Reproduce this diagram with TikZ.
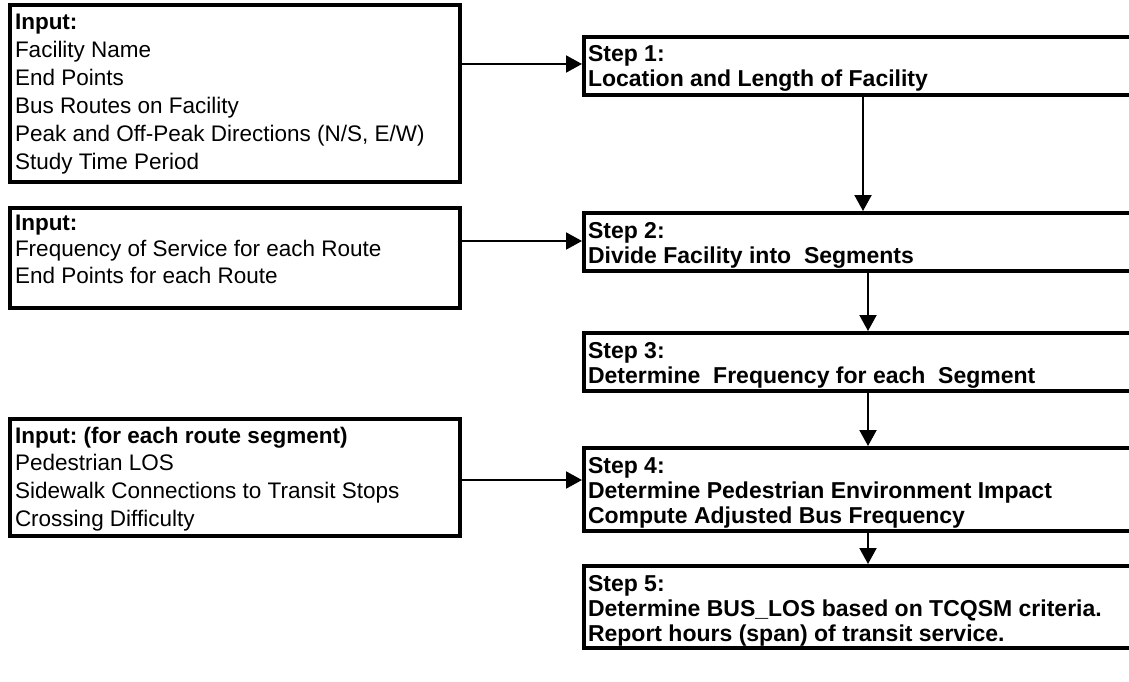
\documentclass[tikz,border=0pt]{standalone}
\usepackage{fontspec}
\setmainfont{Liberation Sans}
\usetikzlibrary{arrows.meta}
\frenchspacing
\begin{document}
\begin{tikzpicture}[x=1pt,y=-1pt,
  inbox/.style={draw=black, line width=4pt, anchor=north west, inner xsep=5pt, inner ysep=0pt},
  stepbox/.style={draw=black, line width=4pt, anchor=north west, inner xsep=4pt, inner ysep=0pt,
    font=\fontsize{23}{25}\selectfont\bfseries},
  arr/.style={line width=2pt, -{Triangle[length=16pt,width=17pt]}}]
\useasboundingbox (0,0) rectangle (1129,682);
\fill[white] (0,0) rectangle (1129,682);
\clip (0,0) rectangle (1129,682);
% input boxes
\node[inbox, text height=25pt, text depth=152pt, font=\fontsize{22.5}{28}\selectfont] (in1) at (8,3)
 {\makebox[440pt][l]{\begin{tabular}[t]{@{}l@{}}\textbf{Input:}\\ Facility Name\\ End Points\\ Bus Routes on Facility\\ Peak and Off-Peak Directions (N/S, E/W)\\ Study Time Period\end{tabular}}};
\node[inbox, text height=22pt, text depth=78pt, font=\fontsize{22.5}{26.5}\selectfont] (in2) at (8,206)
 {\makebox[440pt][l]{\begin{tabular}[t]{@{}l@{}}\textbf{Input:}\\ Frequency of Service for each Route\\ End Points for each Route\end{tabular}}};
\node[inbox, text height=24pt, text depth=93pt, font=\fontsize{22.5}{27.7}\selectfont] (in3) at (8,417)
 {\makebox[440pt][l]{\begin{tabular}[t]{@{}l@{}}\textbf{Input: (for each route segment)}\\ Pedestrian LOS\\ Sidewalk Connections to Transit Stops\\ Crossing Difficulty\end{tabular}}};
% step boxes
\node[stepbox, text height=25pt, text depth=33pt] (step1) at (582,35)
 {\makebox[560pt][l]{\begin{tabular}[t]{@{}l@{}}Step 1:\\ Location and Length of Facility\end{tabular}}};
\node[stepbox, text height=25pt, text depth=33pt] (step2) at (582,211)
 {\makebox[560pt][l]{\begin{tabular}[t]{@{}l@{}}Step 2:\\ Divide Facility into\ \ Segments\end{tabular}}};
\node[stepbox, text height=25pt, text depth=33pt] (step3) at (582,331)
 {\makebox[560pt][l]{\begin{tabular}[t]{@{}l@{}}Step 3:\\ Determine\ \ Frequency for each\ \ Segment\end{tabular}}};
\node[stepbox, text height=25pt, text depth=58pt] (step4) at (582,446)
 {\makebox[560pt][l]{\begin{tabular}[t]{@{}l@{}}Step 4:\\ Determine Pedestrian Environment Impact\\ Compute Adjusted Bus Frequency\end{tabular}}};
\node[stepbox, text height=25pt, text depth=57pt] (step5) at (582,564)
 {\makebox[560pt][l]{\begin{tabular}[t]{@{}l@{}}Step 5:\\ Determine BUS\_LOS based on TCQSM criteria.\\ Report hours (span) of transit service.\end{tabular}}};
% connector helpers
\coordinate (r1) at (0,64);
\coordinate (r2) at (0,241);
\coordinate (r4) at (0,480);
\coordinate (v1) at (863,0);
\coordinate (v2) at (868,0);
% connectors
\draw[arr] (in1.east |- r1) -- (step1.west |- r1);
\draw[arr] (in2.east |- r2) -- (step2.west |- r2);
\draw[arr] (in3.east |- r4) -- (step4.west |- r4);
\draw[arr] (step1.south -| v1) -- (step2.north -| v1);
\draw[arr] (step2.south -| v2) -- (step3.north -| v2);
\draw[arr] (step3.south -| v2) -- (step4.north -| v2);
\draw[arr] (step4.south -| v2) -- (step5.north -| v2);
\end{tikzpicture}
\end{document}
